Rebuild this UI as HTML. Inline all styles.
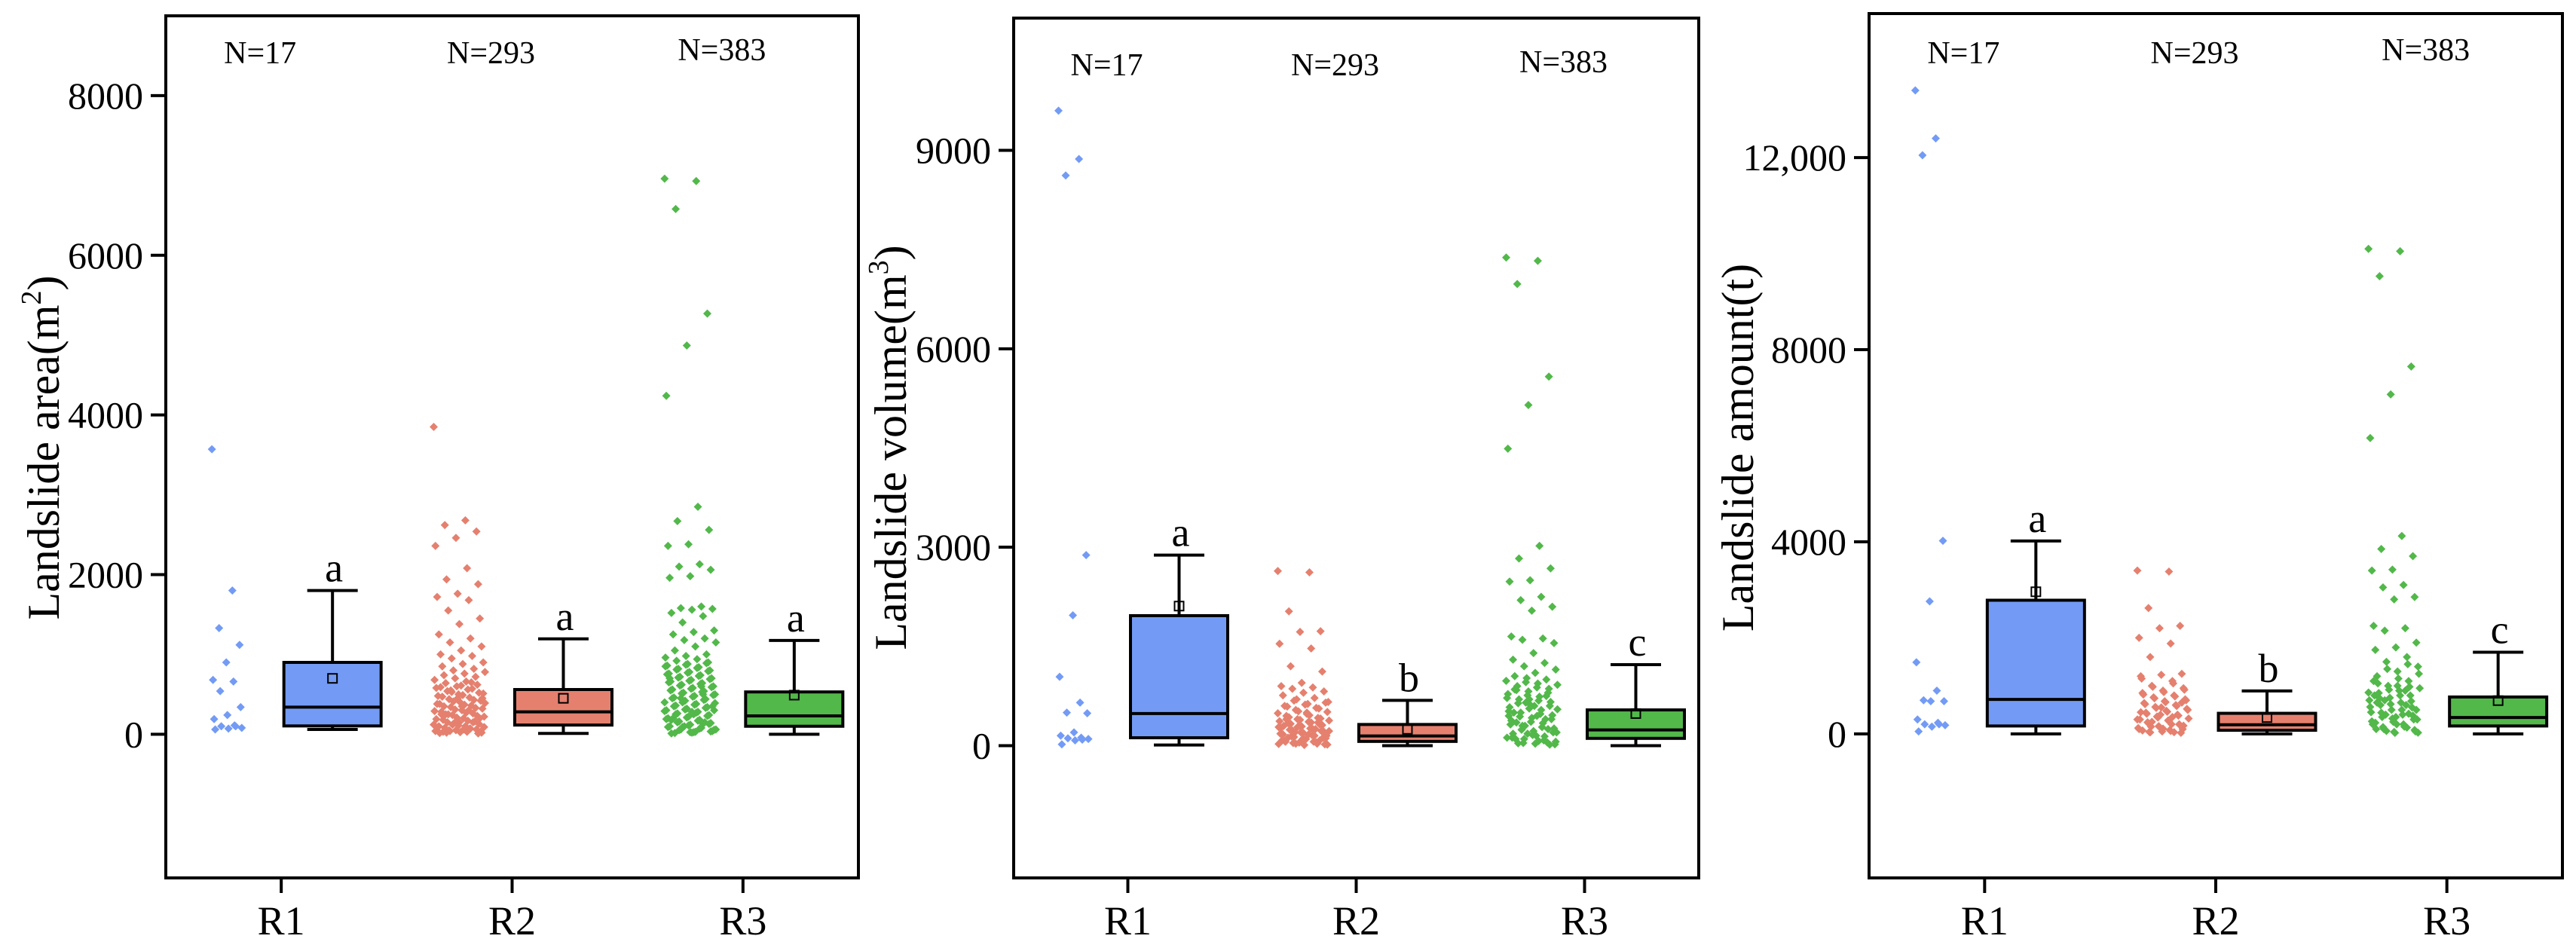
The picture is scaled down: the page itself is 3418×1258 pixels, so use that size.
<!DOCTYPE html>
<html><head><meta charset="utf-8">
<style>
html,body{margin:0;padding:0;background:#fff;}
svg{display:block;font-family:"Liberation Serif","Times New Roman",serif;}
</style></head>
<body>
<svg id="chart" width="3418" height="1258" viewBox="0 0 3418 1258" xmlns="http://www.w3.org/2000/svg"></svg>
<script>
const categories = ["R1","R2","R3"];
const nLabels = ["N=17","N=293","N=383"];
// Panel 1: area
const areaR1 = [3570,1800,1330,1120,900,680,660,540,340,240,190,110,100,80,70,60,100];
const areaR2 = [3850,2680,2620,2540,2460,2360,2080,1940,1880,1760,1720,1680,1550,1450,1380,1250,1200,1150,1100,1050,1000,980,950,900,880,850,820,800,780,760,740,720,700,680,660,640,620,600,580,560,540,520,500,480,460,440,420,400,380,360,340,320,300,280,260,240,220,200,180,160,140,120,100,80,60,50,40,30,20,10,450,380,300,250,200,150,100,70,40,20,
 610,590,570,530,510,490,470,430,410,390,370,350,330,310,290,270,250,230,210,190,170,150,130,110,90,70,50,35,25,15,650,550,450,350,250,150,120,90,60,30];
const areaR3 = [6960,6930,6580,5270,4870,4240,2850,2670,2560,2380,2360,2130,2100,2060,1980,1960,1600,1580,1570,1560,1520,1480,1400,1300,1280,1250,1200,1180,1150,1100,1050,1000,980,960,940,920,900,880,860,840,820,800,780,760,740,720,700,680,660,640,620,600,580,560,540,520,500,480,460,440,420,400,380,360,340,320,300,280,260,240,220,200,180,160,140,120,100,80,60,40,20,10,500,400,300,250,200,150,100,60,30,15,
 890,870,850,830,810,790,770,750,730,710,690,670,650,630,610,590,570,550,530,510,490,470,450,430,410,390,370,350,330,310,290,270,250,230,210,190,170,150,130,110,90,70,50,35,25,700,600,450,350,280,180,130,90,55,25];
const areaBox = {q1:[104,115,100], med:[340,280,230], q3:[900,560,530], lo:[60,10,0], hi:[1800,1195,1175], mean:[700,450,490]};
const areaLetters = ["a","a","a"];
// Panel 2: volume
const volR1 = [9600,8870,8620,2880,1970,1040,650,500,490,200,150,120,110,100,80,20,90];
const volR2 = [2640,2620,2030,1730,1720,1540,1470,1200,1120,950,900,880,860,820,800,760,720,680,650,620,600,570,540,510,480,450,420,400,380,360,340,320,300,280,260,240,220,200,180,160,140,120,100,80,60,40,20,10,300,250,200,150,100,60,30,
 700,660,630,590,560,520,490,460,430,410,390,370,350,330,310,290,270,250,230,210,190,170,150,130,110,90,70,50,30,15,500,400,350,280,220,170,120,80,45,25];
const volR3 = [7380,7330,6980,5580,5150,4490,3020,2830,2680,2500,2480,2250,2200,2100,2040,1650,1620,1600,1550,1400,1300,1250,1200,1150,1100,1050,1000,960,920,880,840,800,760,720,680,640,600,560,520,480,440,400,360,320,280,240,200,160,120,80,40,20,600,500,400,300,200,150,100,50,
 1020,980,940,900,860,820,780,740,700,660,620,580,540,500,460,420,380,340,300,260,220,180,140,100,60,30,850,750,650,550,450,350,250,180,120,70,35,15,700,450];
const volBox = {q1:[119,64,110], med:[485,146,238], q3:[1965,320,540], lo:[10,0,0], hi:[2880,685,1225], mean:[2110,247,485]};
const volLetters = ["a","b","c"];
// Panel 3: amount
const amtR1 = [13400,12400,12050,4020,2760,1490,900,700,680,680,300,230,200,180,150,50,200];
const amtR2 = [3400,3380,2620,2250,2200,2000,1880,1600,1250,1230,1200,1100,1000,950,900,850,800,760,720,680,640,600,560,520,480,440,400,360,320,280,240,200,160,120,80,40,20,400,300,200,150,100,50,
 1150,1050,980,920,870,820,780,740,700,660,620,580,540,500,460,420,380,340,300,260,220,180,140,100,60,30,650,550,450,350,250,170,110,70,35];
const amtR3 = [10100,10050,9530,7650,7070,6160,4120,3850,3700,3420,3400,3100,3050,2850,2800,2250,2200,2150,1900,1800,1750,1600,1500,1400,1300,1200,1100,1000,950,900,850,800,750,700,650,600,550,500,450,400,350,300,250,200,150,100,50,20,800,600,400,300,200,100,
 1450,1350,1250,1150,1050,980,920,860,800,740,680,620,560,500,440,380,320,260,200,140,80,40,1100,900,700,500,350,230,130,60,25,1000,650,420];
const amtBox = {q1:[164,75,164], med:[718,189,340], q3:[2783,428,768], lo:[0,0,0], hi:[4016,894,1700], mean:[2959,340,692]};
const amtLetters = ["a","b","c"];

const areaTicks = [0,2000,4000,6000,8000];
const areaTickLabels = ["0","2000","4000","6000","8000"];
const volTicks = [0,3000,6000,9000];
const volTickLabels = ["0","3000","6000","9000"];
const amtTicks = [0,4000,8000,12000];
const amtTickLabels = ["0","4000","8000","12,000"];

const colors = ["#739bf5","#e5806f","#52b84a"];
const NS = "http://www.w3.org/2000/svg";
const svg = document.getElementById("chart");
function mk(tag, attrs, parent){const e=document.createElementNS(NS,tag);for(const k in attrs)e.setAttribute(k,attrs[k]);(parent||svg).appendChild(e);return e;}

const panels = [
 {id:"area", left:220, right:1139, top:21, bottom:1165, ymin:-1800, ymax:9000, pts:[areaR1,areaR2,areaR3], box:areaBox, letters:areaLetters, ticks:areaTicks, tl:areaTickLabels, title:"Landslide area(m", sup:"2", titleX:58, nY:[84,84,80]},
 {id:"volume", left:1345, right:2254, top:24, bottom:1165, ymin:-2000, ymax:11000, pts:[volR1,volR2,volR3], box:volBox, letters:volLetters, ticks:volTicks, tl:volTickLabels, title:"Landslide volume(m", sup:"3", titleX:1182, nY:[100,100,96]},
 {id:"amount", left:2480, right:3400, top:18, bottom:1165, ymin:-3000, ymax:15000, pts:[amtR1,amtR2,amtR3], box:amtBox, letters:amtLetters, ticks:amtTicks, tl:amtTickLabels, title:"Landslide amount(t)", sup:"", titleX:2306, nY:[84,84,80]}
];

panels.forEach(p=>{
  const g = mk("g",{});
  
  
  const sp = (p.right-p.left)/3;
  const xs = i => p.left + sp*(i+0.5);
  const ys = v => p.bottom - (v-p.ymin)/(p.ymax-p.ymin)*(p.bottom-p.top);
  p.ticks.forEach((t,i)=>{
    const y = ys(t);
    const l = mk("line",{x1:p.left-20,x2:p.left,y1:y,y2:y,stroke:"#000","stroke-width":4},g);
    
    
    const tx = mk("text",{x:p.left-30,y:y+17,"font-size":50,"text-anchor":"end"},g);
    tx.textContent = p.tl[i];
    
    
  });
  const tt = mk("text",{transform:`translate(${p.titleX+20},594) rotate(-90)`,"font-size":60,"text-anchor":"middle"},g);
  tt.textContent = p.title;
  if(p.sup){const s=mk("tspan",{"font-size":38,dy:-24},tt);s.textContent=p.sup;const c=mk("tspan",{"font-size":60,dy:24},tt);c.textContent=")";}
  
  
  categories.forEach((c,i)=>{
    const cx = xs(i);
    const xt = mk("line",{x1:cx,x2:cx,y1:p.bottom,y2:p.bottom+20,stroke:"#000","stroke-width":4},g);
    
    
    const xl = mk("text",{x:cx,y:1240,"font-size":54,"text-anchor":"middle"},g);
    xl.textContent = c;
    
    
    const nl = mk("text",{x:cx-28,y:p.nY[i],"font-size":42,"text-anchor":"middle"},g);
    nl.textContent = nLabels[i];
    
    
    const pc = cx-70, half = i===0?22:34;
    p.pts[i].forEach((v,k)=>{
      const off = (((k*37)%61)/60*2-1)*half;
      const px = pc+off, py = ys(v);
      const d = mk("path",{d:`M${px} ${py-5.5}L${px+5.5} ${py}L${px} ${py+5.5}L${px-5.5} ${py}Z`,fill:colors[i]},g);
      
      
    });
    const bx = cx+68, bw=129, cw=67;
    const b = p.box;
    const wl = mk("line",{x1:bx,x2:bx,y1:ys(b.hi[i]),y2:ys(b.lo[i]),stroke:"#000","stroke-width":4},g);
    
    
    [b.hi[i],b.lo[i]].forEach(v=>{
      const cap = mk("line",{x1:bx-cw/2,x2:bx+cw/2,y1:ys(v),y2:ys(v),stroke:"#000","stroke-width":4},g);
      
      
    });
    const r = mk("rect",{x:bx-bw/2,y:ys(b.q3[i]),width:bw,height:Math.max(1,ys(b.q1[i])-ys(b.q3[i])),fill:colors[i],stroke:"#000","stroke-width":4},g);
    
    
    const m = mk("line",{x1:bx-bw/2,x2:bx+bw/2,y1:ys(b.med[i]),y2:ys(b.med[i]),stroke:"#000","stroke-width":4},g);
    
    
    const mn = mk("rect",{x:bx-6,y:ys(b.mean[i])-6,width:12,height:12,fill:"none",stroke:"#000","stroke-width":2},g);
    
    
    const lt = mk("text",{x:bx+2,y:ys(b.hi[i])-12,"font-size":54,"text-anchor":"middle"},g);
    lt.textContent = p.letters[i];
    
    
  });
  const fr = mk("rect",{x:p.left,y:p.top,width:p.right-p.left,height:p.bottom-p.top,fill:"none",stroke:"#000","stroke-width":4},g);
  
  
});
</script>
</body></html>
